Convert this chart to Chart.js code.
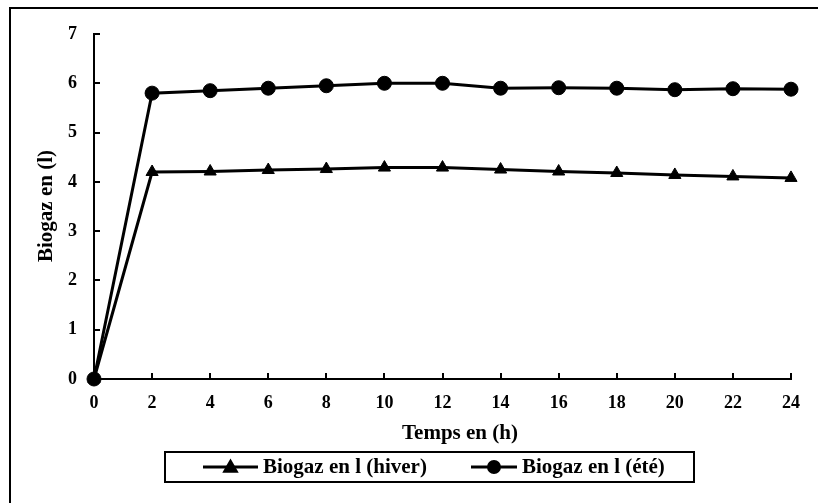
<!DOCTYPE html>
<html>
<head>
<meta charset="utf-8">
<title>Biogaz</title>
<script src="https://cdn.jsdelivr.net/npm/chart.js@4/dist/chart.umd.min.js"></script>
<style>
  html, body { margin: 0; padding: 0; background: #fff; }
  #wrap { width: 818px; height: 503px; position: relative; }
</style>
</head>
<body>
<div id="wrap"><canvas id="c" width="818" height="503"></canvas></div>
<script>
// Production de biogaz (litres) selon le temps (heures)
const hours = [0, 2, 4, 6, 8, 10, 12, 14, 16, 18, 20, 22, 24];
const biogazHiver = [0, 4.20, 4.21, 4.24, 4.26, 4.29, 4.29, 4.25, 4.21, 4.18, 4.14, 4.11, 4.08];
const biogazEte = [0, 5.80, 5.85, 5.90, 5.95, 6.00, 6.00, 5.90, 5.91, 5.90, 5.87, 5.89, 5.88];
const seriesNames = ['Biogaz en l (hiver)', 'Biogaz en l (été)'];
const xTitle = 'Temps en (h)';
const yTitle = 'Biogaz en (l)';
const yMin = 0, yMax = 7, yStep = 1;
const xMin = 0, xMax = 24, xStep = 2;

const FONT = '"Liberation Serif", "Times New Roman", serif';
const INK = '#000';
const TITLE_FONT = 'bold 21px ' + FONT;

function toPoints(xs, ys) { return xs.map((x, i) => ({ x: x, y: ys[i] })); }

// Frame, inner tick marks, axis titles and boxed legend
const decor = {
  id: 'decor',
  beforeDraw(chart) {
    const ctx = chart.ctx;
    ctx.save();
    ctx.fillStyle = '#fff';
    ctx.fillRect(0, 0, chart.width, chart.height);
    ctx.strokeStyle = INK;
    ctx.lineWidth = 2;
    ctx.strokeRect(10, 8, chart.width + 20, chart.height + 20);
    ctx.restore();
  },
  beforeDatasetsDraw(chart) {
    const ctx = chart.ctx;
    const xs = chart.scales.x, ys = chart.scales.y;
    const a = chart.chartArea;
    ctx.save();
    ctx.strokeStyle = INK;
    ctx.lineWidth = 2;
    ctx.beginPath();
    ys.ticks.forEach(t => {
      const py = Math.round(ys.getPixelForValue(t.value));
      ctx.moveTo(a.left, py);
      ctx.lineTo(a.left + 6, py);
    });
    xs.ticks.forEach(t => {
      const px = Math.round(xs.getPixelForValue(t.value));
      ctx.moveTo(px, a.bottom);
      ctx.lineTo(px, a.bottom - 6);
    });
    ctx.stroke();
    ctx.restore();
  },
  afterDraw(chart) {
    const ctx = chart.ctx;
    ctx.save();
    ctx.fillStyle = INK;
    ctx.font = TITLE_FONT;
    ctx.textBaseline = 'middle';
    ctx.textAlign = 'center';
    ctx.fillText(xTitle, 460, 434);
    ctx.save();
    ctx.translate(47, 206);
    ctx.rotate(-Math.PI / 2);
    ctx.fillText(yTitle, 0, 0);
    ctx.restore();

    // legend box
    ctx.strokeStyle = INK;
    ctx.lineWidth = 2;
    ctx.strokeRect(165, 452, 529, 30);
    const entryX = [203, 471];
    const sampleW = [55, 46];
    const cy = 467;
    chart.data.datasets.forEach((ds, i) => {
      const x0 = entryX[i];
      ctx.strokeStyle = ds.borderColor;
      ctx.lineWidth = 3;
      ctx.beginPath();
      ctx.moveTo(x0, cy);
      ctx.lineTo(x0 + sampleW[i], cy);
      ctx.stroke();
      Chart.helpers.drawPoint(ctx, {
        pointStyle: ds.pointStyle,
        radius: ds.pointStyle === 'circle' ? 5.5 : 6.5,
        rotation: 0,
        borderWidth: 1
      }, x0 + sampleW[i] / 2, cy + (ds.pointStyle === 'triangle' ? 1 : 0));
      ctx.fillStyle = INK;
      ctx.fill();
      ctx.textAlign = 'left';
      ctx.fillStyle = INK;
      ctx.font = TITLE_FONT;
      ctx.fillText(ds.label, x0 + sampleW[i] + 5, cy + 1);
    });
    ctx.restore();
  }
};

const common = {
  borderColor: INK,
  backgroundColor: INK,
  pointBackgroundColor: INK,
  pointBorderColor: INK,
  borderWidth: 3,
  pointBorderWidth: 1,
  tension: 0,
  clip: false
};

new Chart(document.getElementById('c'), {
  type: 'line',
  data: {
    datasets: [
      Object.assign({}, common, {
        label: seriesNames[0],
        data: toPoints(hours, biogazHiver),
        pointStyle: 'triangle',
        pointRadius: 7
      }),
      Object.assign({}, common, {
        label: seriesNames[1],
        data: toPoints(hours, biogazEte),
        pointStyle: 'circle',
        pointRadius: 7
      })
    ]
  },
  options: {
    responsive: false,
    animation: false,
    devicePixelRatio: 1,
    layout: { padding: { left: 10, top: 34, right: 27, bottom: 0 } },
    plugins: {
      legend: { display: false },
      tooltip: { enabled: false },
      title: { display: false }
    },
    scales: {
      x: {
        type: 'linear',
        min: xMin,
        max: xMax,
        afterFit(s) { s.height = 124; },
        grid: { display: false, drawTicks: false },
        border: { display: true, color: INK, width: 2 },
        ticks: {
          stepSize: xStep,
          color: INK,
          padding: 14,
          maxRotation: 0,
          font: { family: FONT, size: 18, weight: 'bold' }
        }
      },
      y: {
        type: 'linear',
        min: yMin,
        max: yMax,
        afterFit(s) { s.width = 84; },
        grid: { display: false, drawTicks: false },
        border: { display: true, color: INK, width: 2 },
        ticks: {
          stepSize: yStep,
          color: INK,
          padding: 17,
          font: { family: FONT, size: 18, weight: 'bold' }
        }
      }
    }
  },
  plugins: [decor]
});
</script>
</body>
</html>
